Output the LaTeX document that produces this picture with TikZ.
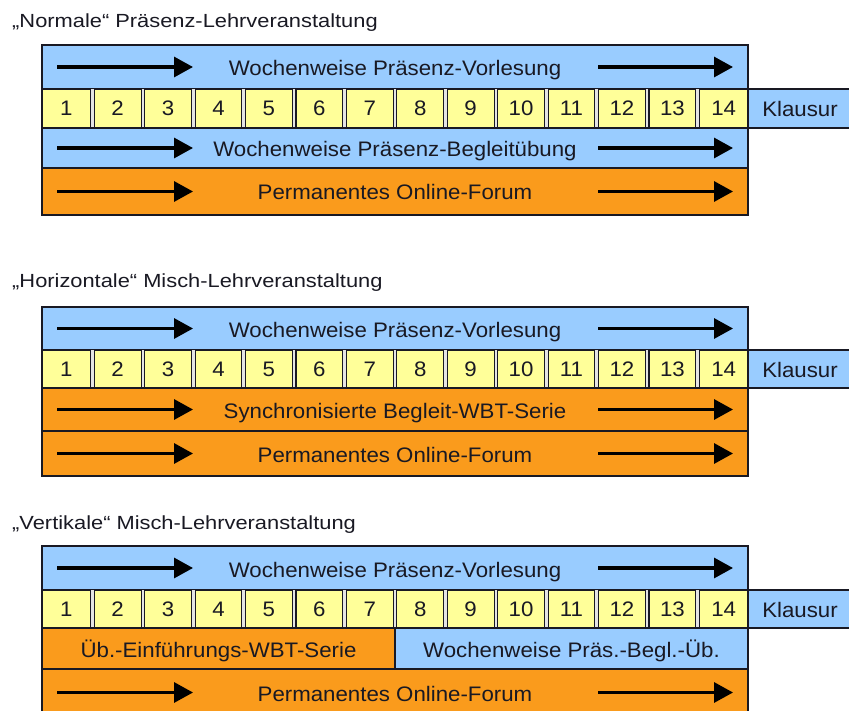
\documentclass[tikz,border=0pt]{standalone}
\usepackage{fontspec}
\setmainfont{Liberation Sans}
\newfontfamily\titlefont{Liberation Sans}[FakeStretch=1.15]
\newfontfamily\bandfont{Liberation Sans}[FakeStretch=1.06]
\usetikzlibrary{arrows.meta}

\definecolor{lecblue}{RGB}{153,204,255}
\definecolor{wbtorange}{RGB}{250,155,28}
\definecolor{weekyellow}{RGB}{255,255,153}
\definecolor{inkdark}{RGB}{25,25,35}
\definecolor{gapgrey}{RGB}{228,228,228}

\tikzset{
  band/.style={draw=inkdark, line width=1.3pt, inner sep=0pt, outer sep=0pt, anchor=north west},
  lbl/.style={font=\bandfont\fontsize{21}{25}\selectfont, text=inkdark, inner sep=0pt,
              text height=15pt, text depth=0pt},
  weekcell/.style={draw=inkdark, line width=1.1pt, fill=weekyellow, inner sep=0pt, outer sep=0pt,
              font=\bandfont\fontsize{21}{25}\selectfont, text=inkdark, text height=15pt, text depth=0pt},
  flow/.style={line width=3.2pt, draw=black, -{Triangle[length=19pt,width=20pt]}},
  heading/.style={font=\titlefont\fontsize{19}{23}\selectfont, anchor=base west, inner sep=0pt, text=inkdark},
  frame/.style={draw=inkdark, line width=1.3pt},
}

% one row of 14 week cells plus the exam box; #1 prefix, #2 top, #3 height
\newcommand\weekrow[3]{%
  \fill[gapgrey] (42,#2) rectangle (748,#2+#3);
  \foreach \i in {1,...,14}{
    \pgfmathsetmacro\cellL{\i==1 ? 42 : 42+(\i-1)*50.43+1.8}
    \pgfmathsetmacro\cellR{\i==14 ? 748 : 42+\i*50.43-1.8}
    \pgfmathsetmacro\cellW{\cellR-\cellL}
    \pgfmathsetmacro\cellX{(\cellL+\cellR)/2}
    \node[weekcell, minimum width=\cellW pt, minimum height=#3pt] (#1c\i) at (\cellX,#2+#3/2) {\i};
  }
  \node[band, fill=lecblue, minimum width=104pt, minimum height=#3pt] (#1k) at (748,#2) {};
  \node[lbl] (#1kt) at ([yshift=-1pt]#1k.center) {Klausur};
}

% the two running arrows inside a band node
\newcommand\flowarrows[1]{%
  \coordinate (#1ls) at ([xshift=15pt]#1.west);
  \coordinate (#1le) at ([xshift=151pt]#1.west);
  \coordinate (#1rs) at ([xshift=-150pt]#1.east);
  \coordinate (#1re) at ([xshift=-15pt]#1.east);
  \draw[flow] (#1ls) -- (#1le);
  \draw[flow] (#1rs) -- (#1re);
}

\begin{document}
\begin{tikzpicture}[x=1pt, y=-1pt]
\useasboundingbox (0,0) rectangle (849,711);
\clip (0,0) rectangle (849,711);
\fill[white] (0,0) rectangle (849,711);

% ---------- "Normale" Präsenz-Lehrveranstaltung ----------
\node[heading] (h1) at (12,28) {„Normale“ Präsenz-Lehrveranstaltung};
\node[band, fill=lecblue, minimum width=706pt, minimum height=44pt] (p1a) at (42,45) {};
\node[lbl] (p1at) at ([yshift=-1.5pt]p1a.center) {Wochenweise Präsenz-Vorlesung};
\flowarrows{p1a}
\weekrow{p1}{89}{39}
\node[band, fill=lecblue, minimum width=706pt, minimum height=40pt] (p1b) at (42,128) {};
\node[lbl] (p1bt) at ([yshift=-1pt]p1b.center) {Wochenweise Präsenz-Begleitübung};
\flowarrows{p1b}
\node[band, fill=wbtorange, minimum width=706pt, minimum height=47pt] (p1c) at (42,168) {};
\node[lbl] (p1ct) at ([yshift=-1pt]p1c.center) {Permanentes Online-Forum};
\flowarrows{p1c}
\draw[frame] (42,45) rectangle (748,215);

% ---------- "Horizontale" Misch-Lehrveranstaltung ----------
\node[heading] (h2) at (12,288) {„Horizontale“ Misch-Lehrveranstaltung};
\node[band, fill=lecblue, minimum width=706pt, minimum height=43pt] (p2a) at (42,307) {};
\node[lbl] (p2at) at ([yshift=-1.5pt]p2a.center) {Wochenweise Präsenz-Vorlesung};
\flowarrows{p2a}
\weekrow{p2}{350}{38}
\node[band, fill=wbtorange, minimum width=706pt, minimum height=43pt] (p2b) at (42,388) {};
\node[lbl] (p2bt) at ([yshift=-1pt]p2b.center) {Synchronisierte Begleit-WBT-Serie};
\flowarrows{p2b}
\node[band, fill=wbtorange, minimum width=706pt, minimum height=45pt] (p2c) at (42,431) {};
\node[lbl] (p2ct) at ([yshift=-1pt]p2c.center) {Permanentes Online-Forum};
\flowarrows{p2c}
\draw[frame] (42,307) rectangle (748,476);

% ---------- "Vertikale" Misch-Lehrveranstaltung ----------
\node[heading] (h3) at (12,529) {„Vertikale“ Misch-Lehrveranstaltung};
\node[band, fill=lecblue, minimum width=706pt, minimum height=44pt] (p3a) at (42,546) {};
\node[lbl] (p3at) at ([yshift=-1.5pt]p3a.center) {Wochenweise Präsenz-Vorlesung};
\flowarrows{p3a}
\weekrow{p3}{590}{38}
\node[band, fill=wbtorange, minimum width=353pt, minimum height=41pt] (p3b) at (42,628) {};
\node[lbl] (p3bt) at ([yshift=-1pt]p3b.center) {Üb.-Einführungs-WBT-Serie};
\node[band, fill=lecblue, minimum width=353pt, minimum height=41pt] (p3d) at (395,628) {};
\node[lbl] (p3dt) at ([yshift=-1pt]p3d.center) {Wochenweise Präs.-Begl.-Üb.};
\draw[draw=inkdark, line width=2.6pt] (p3b.north east) -- (p3b.south east);
\node[band, fill=wbtorange, minimum width=706pt, minimum height=47pt] (p3c) at (42,669) {};
\node[lbl] (p3ct) at ([yshift=-1pt]p3c.center) {Permanentes Online-Forum};
\flowarrows{p3c}
\draw[frame] (42,546) rectangle (748,716);
\end{tikzpicture}
\end{document}
